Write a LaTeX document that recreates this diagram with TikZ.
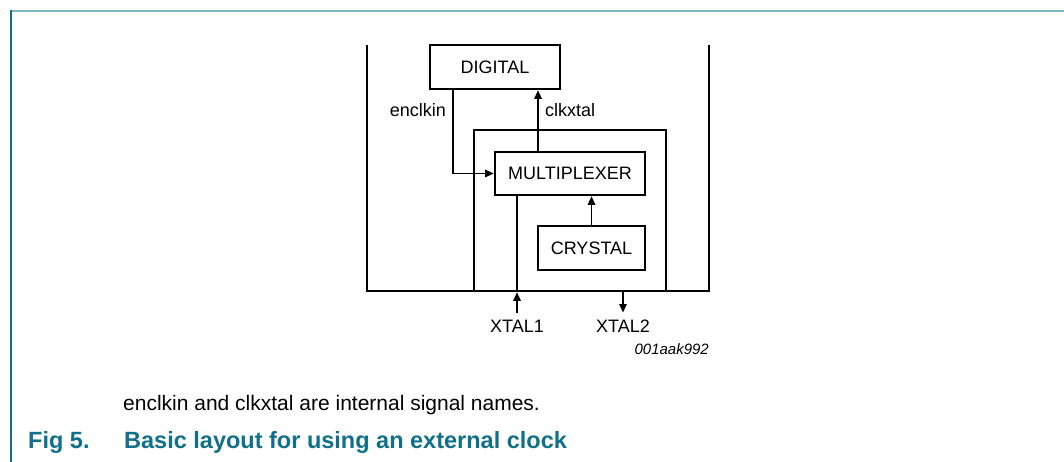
\documentclass[tikz,border=0pt]{standalone}
\usepackage{fontspec}
\setmainfont{Liberation Sans}
\usepackage{xcolor}
\usepackage{tikz}
\usetikzlibrary{positioning,calc,arrows.meta}
\definecolor{figteal}{RGB}{16,112,138}
\definecolor{ruleteal}{RGB}{125,183,193}

\tikzset{
    blk/.style={draw, line width=2.6pt, minimum height=44pt, inner sep=0pt, font=\fontsize{18}{20}\selectfont},
    wire/.style={line width=1.2pt},
    sig/.style={wire, -{Triangle[length=8.5pt,width=7.5pt]}},
    lbl/.style={inner sep=0pt, font=\fontsize{18}{20}\selectfont},
    pinlbl/.style={lbl, inner ysep=7pt},
}

\begin{document}
\begin{tikzpicture}[x=1pt,y=-1pt]
    \useasboundingbox (0,0) rectangle (1064,462);

    % Frame
    \draw[ruleteal, line width=2pt] (11,11) -- (1064,11);
    \draw[figteal, line width=1.5pt] (11,10) -- (11,462);

    % Chip
    \draw[line width=2.6pt] (367,45) -- (367,291) -- (709,291) -- (709,45);
    \node[draw, line width=2.6pt, minimum width=192pt, minimum height=161pt, inner sep=0pt] (core) at (570,210.5) {};
    \node[blk, minimum width=130pt] (digital) at (495,67) {DIGITAL};
    \node[blk, minimum width=150pt, minimum height=43pt] (mux) at (570,173.5) {MULTIPLEXER};
    \node[blk, minimum width=107pt] (crystal) at (591.5,248) {CRYSTAL};

    % Internal signals
    \draw[sig] ([xshift=-42pt]digital.south) |- (mux.west);
    \node[lbl, anchor=base east] (enclkin) at (446,117) {enclkin};
    \draw[sig] ([xshift=-32pt]mux.north) -- ([xshift=-32pt]mux.north |- digital.south);
    \node[lbl, anchor=base west] (clkxtal) at (545,117) {clkxtal};
    \draw[sig] (crystal.north) -- (crystal.north |- mux.south);

    % Pins
    \node[pinlbl] (xtal1) at (517,326) {XTAL1};
    \node[pinlbl] (xtal2) at (623,326) {XTAL2};
    \draw[wire] ([xshift=-53pt]mux.south) -- (xtal1.north |- core.south);
    \draw[sig] (xtal1.north) -- (xtal1.north |- core.south);
    \draw[sig] (xtal2.north |- core.south) -- (xtal2.north);
    \node[inner sep=0pt, anchor=base east, font=\itshape\fontsize{15}{17}\selectfont] (figid) at (709,354) {001aak992};

    % Caption
    \node[inner sep=0pt, anchor=base west, font=\fontsize{21}{24}\selectfont] (note) at (123,410) {enclkin and clkxtal are internal signal names.};
    \node[inner sep=0pt, anchor=base west, text=figteal, font=\bfseries\fontsize{23.5}{26}\selectfont] (figno) at (28,448) {Fig 5.};
    \node[inner sep=0pt, anchor=base west, text=figteal, font=\bfseries\fontsize{23.5}{26}\selectfont] (figtitle) at (124,448) {Basic layout for using an external clock};
\end{tikzpicture}
\end{document}
